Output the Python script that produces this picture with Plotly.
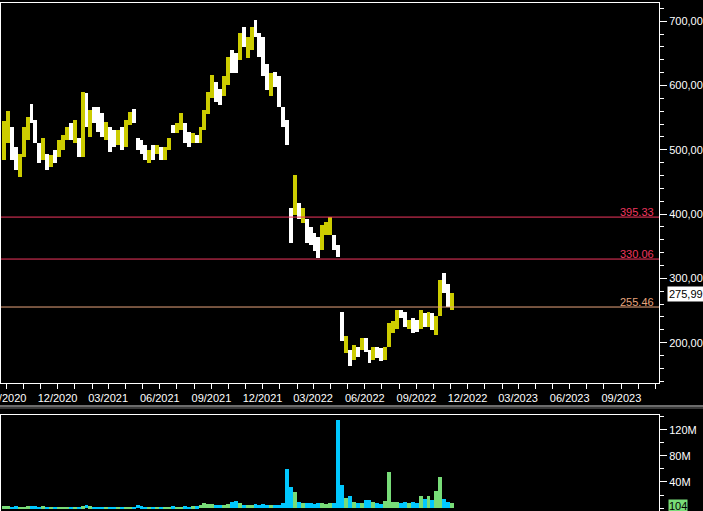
import plotly.graph_objects as go
import pandas as pd

# Weekly ranges (price, weeks starting Monday 2020-08-24)
low = [484, 510, 484, 469, 458, 489, 515, 541, 510, 479,
       484, 469, 474, 479, 489, 500, 515, 515, 510, 489,
       489, 536, 520, 541, 528, 520, 515, 497, 505, 508,
       500, 505, 539, 541, 500, 494, 484, 479, 484, 494,
       484, 484, 500, 526, 526, 531, 510, 505, 510, 510,
       510, 531, 555, 580, 575, 570, 583, 600, 620, 619,
       640, 660, 642, 655, 676, 645, 614, 593, 583, 598,
       567, 536, 507, 355, 398, 393, 386, 355, 352, 342,
       331, 344, 367, 367, 344, 334, 202, 184, 163, 173,
       178, 189, 186, 168, 173, 176, 171, 173, 194, 215,
       222, 238, 225, 222, 215, 217, 222, 225, 225, 220,
       212, 241, 277, 256, 251]
high = [545, 560, 536, 505, 494, 536, 551, 572, 546, 510,
        518, 494, 492, 500, 515, 523, 536, 541, 546, 518,
        590, 588, 562, 567, 567, 557, 544, 536, 531, 531,
        536, 546, 559, 564, 518, 515, 507, 500, 507, 507,
        505, 505, 518, 538, 541, 557, 541, 528, 526, 523,
        536, 562, 590, 616, 605, 595, 615, 645, 655, 650,
        681, 691, 675, 691, 702, 681, 676, 634, 619, 621,
        614, 567, 546, 410, 461, 417, 409, 393, 380, 370,
        365, 383, 388, 396, 367, 352, 248, 210, 189, 197,
        194, 207, 207, 189, 194, 194, 191, 194, 230, 233,
        251, 251, 248, 235, 238, 235, 251, 246, 248, 246,
        241, 298, 308, 292, 277]
direction = ["U", "U", "D", "D", "U", "U", "U", "D", "D", "D",
             "U", "D", "U", "D", "U", "U", "U", "D", "U", "D",
             "U", "D", "U", "D", "D", "D", "U", "D", "D", "U",
             "D", "U", "U", "D", "D", "D", "D", "U", "D", "U",
             "D", "U", "U", "D", "U", "U", "D", "D", "U", "D",
             "U", "U", "U", "U", "D", "D", "U", "U", "D", "D",
             "U", "D", "U", "U", "D", "D", "D", "D", "U", "D",
             "D", "D", "D", "D", "U", "D", "U", "D", "D", "D",
             "D", "U", "U", "U", "D", "D", "D", "U", "D", "U",
             "D", "U", "D", "D", "U", "D", "D", "U", "U", "U",
             "U", "D", "D", "U", "D", "D", "U", "D", "U", "D",
             "U", "U", "D", "D", "U"]
volume_m = [3, 3, 2, 3, 2, 2, 3, 3, 3, 2,
            3, 2, 2, 2, 2, 2, 2, 2, 2, 2,
            3, 5, 3, 2, 2, 2, 2, 2, 2, 2,
            2, 2, 2, 2, 4, 3, 2, 2, 2, 2,
            2, 2, 2, 3, 2, 2, 3, 2, 3, 3,
            4, 8, 6, 6, 5, 4, 5, 6, 9, 11,
            7, 5, 5, 5, 6, 5, 6, 5, 4, 5,
            5, 7, 60, 32, 24, 9, 7, 8, 7, 6,
            7, 7, 6, 8, 7, 135, 35, 16, 18, 10,
            8, 7, 12, 13, 10, 7, 6, 11, 55, 9,
            10, 8, 9, 8, 9, 8, 19, 14, 18, 13,
            26, 48, 14, 10, 8]

levels = [395.33, 330.06, 255.46]
level_labels = ["395.33", "330.06", "255.46"]
level_colors = ["#f0365e", "#f0365e", "#e8a47c"]
last_price_label = "275,99"
last_price = 275.99
vol_ticks = [40, 80, 120]
vol_ticktext = ["40M", "80M", "120M"]

week_start = pd.date_range("2020-08-24", periods=len(low), freq="7D")
centers = week_start + pd.Timedelta(hours=84)
week_ms = 7 * 86400000

UP_P, DN_P = "#cccc00", "#ffffff"
UP_V, DN_V = "#78dc78", "#00c8ff"

pcol = [UP_P if d == "U" else DN_P for d in direction]
vcol = [UP_V if d == "U" else DN_V for d in direction]

fig = go.Figure()
fig.add_trace(go.Bar(
    x=centers, y=[h - l for h, l in zip(high, low)], base=low,
    width=week_ms, marker=dict(color=pcol, line=dict(width=0)),
    xaxis="x", yaxis="y", hoverinfo="skip"))
fig.add_trace(go.Bar(
    x=centers, y=volume_m, width=week_ms,
    marker=dict(color=vcol, line=dict(width=0)),
    xaxis="x2", yaxis="y2", hoverinfo="skip"))

FONT = dict(family="Liberation Sans, Arial, sans-serif", size=11, color="white")
H = 511
PH = H - 3

def py(Y):
    return (H - Y) / PH

shapes = []
annotations = []
for v, t, c in zip(levels, level_labels, level_colors):
    shapes.append(dict(type="line", xref="paper", yref="y", x0=0, x1=1,
                       y0=v, y1=v, line=dict(color=c, width=1)))
    annotations.append(dict(x=0.9955, y=v, xref="paper", yref="y", text=t,
                            showarrow=False, xanchor="right", yanchor="bottom",
                            yshift=-3, font=dict(family=FONT["family"], size=11, color=c)))

annotations.append(dict(x=1.0125, y=last_price, xref="paper", yref="y",
                        text=last_price_label, showarrow=False, xanchor="left",
                        yanchor="middle", bgcolor="white", borderpad=1,
                        font=dict(family=FONT["family"], size=11, color="black")))
annotations.append(dict(x=1.0137, y=3, xref="paper", yref="y2",
                        text="104", showarrow=False, xanchor="left",
                        yanchor="middle", bgcolor="#78dc78", borderpad=0,
                        font=dict(family=FONT["family"], size=11, color="black")))

# separator double line
shapes.append(dict(type="line", xref="paper", yref="paper", x0=-0.01, x1=1.07,
                   y0=py(406), y1=py(406), line=dict(color="#d8d8d8", width=1)))
shapes.append(dict(type="line", xref="paper", yref="paper", x0=-0.01, x1=1.07,
                   y0=py(408), y1=py(408), line=dict(color="#707070", width=1)))

xrange = ["2020-08-22 06:00", "2023-11-07"]

fig.update_layout(
    width=703, height=511,
    margin=dict(l=1, r=44, t=3, b=0, autoexpand=False),
    paper_bgcolor="black", plot_bgcolor="black",
    showlegend=False, barmode="overlay", bargap=0,
    separators=",.",
    font=FONT,
    xaxis=dict(type="date", range=xrange, domain=[0, 1], anchor="y",
               tick0="2020-09-01", dtick="M3", tickformat="%m/%Y",
               ticks="outside", ticklen=5, tickcolor="white",
               ticklabeloverflow="allow", automargin=False,
               showline=True, linecolor="white", linewidth=1, mirror=True,
               showgrid=False, zeroline=False, tickfont=FONT,
               minor=dict(tick0="2020-09-01", dtick="M1", ticks="outside",
                          ticklen=5, tickcolor="white", showgrid=False)),
    yaxis=dict(domain=[py(383), 1], anchor="x", side="right",
               range=[137.3, 728.3], tick0=0, dtick=100, tickformat=".2f",
               ticks="outside", ticklen=7, tickcolor="white", automargin=False,
               showline=True, linecolor="white", linewidth=1, mirror=True,
               showgrid=False, zeroline=False, tickfont=FONT,
               minor=dict(tick0=0, dtick=20, ticks="outside", ticklen=4,
                          tickcolor="white", showgrid=False)),
    xaxis2=dict(type="date", matches="x", anchor="y2", side="top",
                showticklabels=False, ticks="", showline=True, automargin=False,
                linecolor="white", linewidth=1, showgrid=False, zeroline=False),
    yaxis2=dict(domain=[0, py(415)], anchor="x2", side="right",
                range=[-4.6, 143], tickmode="array", tickvals=vol_ticks,
                ticktext=vol_ticktext, ticks="outside", ticklen=7,
                tickcolor="white", showline=True, linecolor="white",
                linewidth=1, mirror=True, showgrid=False, zeroline=False,
                tickfont=FONT, automargin=False,
                minor=dict(tickmode="array", tickvals=[0, 20, 60, 100, 140],
                           ticks="outside", ticklen=4, tickcolor="white",
                           showgrid=False)),
    shapes=shapes, annotations=annotations,
)

fig.write_html("out.html",
               config={"displayModeBar": False},
               post_script="document.body.style.margin='0px';"
                           "document.body.style.overflow='hidden';")
